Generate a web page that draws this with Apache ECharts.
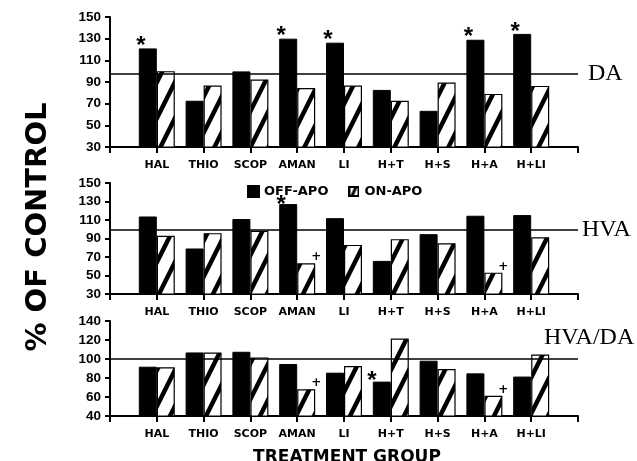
<!DOCTYPE html>
<html>
<head>
<meta charset="utf-8">
<script src="https://cdn.jsdelivr.net/npm/echarts@6/dist/echarts.min.js"></script>
<style>
html,body{margin:0;padding:0;background:#fff;}
#chart{width:637px;height:461px;}
</style>
</head>
<body>
<div id="chart"></div>
<script>
// ---- data ----
const categories = ['HAL', 'THIO', 'SCOP', 'AMAN', 'LI', 'H+T', 'H+S', 'H+A', 'H+LI'];
const daOff = [121, 72.7, 99.8, 130, 126.3, 82.7, 63.4, 129, 134.4];
const daOn = [100, 86.7, 92.3, 84.5, 86.7, 72.7, 89.5, 79, 86.4];
const hvaOff = [113.8, 79.2, 111, 127.2, 112, 65.8, 94.7, 114.6, 115.3];
const hvaOn = [92.9, 95.8, 98.3, 63.2, 83.1, 89.3, 84.9, 53.1, 91.4];
const ratioOff = [91.9, 106.9, 107.6, 94.7, 85.6, 76.2, 98.2, 84.9, 81.5];
const ratioOn = [91.2, 106.9, 101.7, 68.2, 92.6, 121.5, 89.5, 61.3, 104.8];
const daOffMarks = ['*', '', '', '*', '*', '', '', '*', '*'];
const daOnMarks = ['', '', '', '', '', '', '', '', ''];
const hvaOffMarks = ['', '', '', '*', '', '', '', '', ''];
const hvaOnMarks = ['', '', '', '+', '', '', '', '+', ''];
const ratioOffMarks = ['', '', '', '', '', '*', '', '', ''];
const ratioOnMarks = ['', '', '', '+', '', '', '', '+', ''];
const controlLevels = [98, 100, 100];
const daRange = [30, 150];
const hvaRange = [30, 150];
const ratioRange = [40, 140];
const tickStep = 20;
const panelNames = ['DA', 'HVA', 'HVA/DA'];
const seriesNames = ['OFF-APO', 'ON-APO'];
const yTitle = '% OF CONTROL';
const xTitle = 'TREATMENT GROUP';

// ---- hatch pattern ----
const pc = document.createElement('canvas');
pc.width = 18; pc.height = 36;
const g = pc.getContext('2d');
g.fillStyle = '#fff'; g.fillRect(0, 0, 18, 36);
g.strokeStyle = '#000'; g.lineWidth = 4.5;
for (let k = -1; k <= 1; k++) {
  g.beginPath();
  g.moveTo(-18 + k * 18, 72);
  g.lineTo(36 + k * 18, -36);
  g.stroke();
}
const hatch = { image: pc, repeat: 'repeat' };

// legend icon for the hatched series
const ic = document.createElement('canvas');
ic.width = 11; ic.height = 11;
const h = ic.getContext('2d');
h.fillStyle = '#fff'; h.fillRect(0, 0, 11, 11);
h.strokeStyle = '#000'; h.lineWidth = 3;
h.beginPath(); h.moveTo(3, 11); h.lineTo(8, 0); h.stroke();
h.lineWidth = 2; h.strokeRect(1, 1, 9, 9);
const hatchIcon = 'image://' + ic.toDataURL();

const axisCats = [''].concat(categories, ['']);
const pad = arr => [null].concat(arr, [null]);
const padM = arr => [''].concat(arr, ['']);

const grids = [
  { left: 110, right: 59, top: 17, height: 130 },
  { left: 110, right: 59, top: 183, height: 111 },
  { left: 110, right: 59, top: 321, height: 95 }
];
const ranges = [daRange, hvaRange, ratioRange];
const offData = [daOff, hvaOff, ratioOff];
const onData = [daOn, hvaOn, ratioOn];
const offMarks = [daOffMarks, hvaOffMarks, ratioOffMarks];
const onMarks = [daOnMarks, hvaOnMarks, ratioOnMarks];
const offMarkOffset = [[-7, 12], [-7, 15], [-10, 14]];

const xAxes = [], yAxes = [], series = [];
for (let i = 0; i < 3; i++) {
  xAxes.push({
    type: 'category', gridIndex: i, data: axisCats, boundaryGap: false,
    axisLine: { lineStyle: { color: '#000', width: 2 } },
    axisTick: { show: true, length: 6, lineStyle: { color: '#000', width: 2 } },
    axisLabel: { color: '#000', fontFamily: 'DejaVu Sans', fontWeight: 'bold', fontSize: 11, margin: 13, interval: 0 },
    splitLine: { show: false }
  });
  yAxes.push({
    type: 'value', gridIndex: i, min: ranges[i][0], max: ranges[i][1], interval: tickStep,
    axisLine: { show: true, lineStyle: { color: '#000', width: 2 } },
    axisTick: { show: true, length: 5, lineStyle: { color: '#000', width: 2 } },
    axisLabel: { color: '#000', fontFamily: 'Liberation Sans', fontWeight: 'bold', fontSize: 13.5, margin: 9 },
    splitLine: { show: false }
  });
  const om = padM(offMarks[i]);
  const nm = padM(onMarks[i]);
  series.push({
    name: seriesNames[0], type: 'bar', xAxisIndex: i, yAxisIndex: i,
    data: pad(offData[i]), barWidth: 18, barGap: '0%',
    itemStyle: { color: '#000', borderColor: '#000', borderWidth: 1 },
    label: {
      show: true, position: 'top', distance: 2, offset: offMarkOffset[i],
      formatter: p => om[p.dataIndex] || '',
      color: '#000', fontFamily: 'Liberation Sans', fontWeight: 'bold', fontSize: 24
    },
    markLine: {
      silent: true, symbol: 'none', label: { show: false },
      lineStyle: { color: '#000', width: 1.5, type: 'solid' },
      data: [{ yAxis: controlLevels[i] }]
    },
    animation: false
  });
  series.push({
    name: seriesNames[1], type: 'bar', xAxisIndex: i, yAxisIndex: i,
    data: pad(onData[i]), barWidth: 18, barGap: '0%',
    itemStyle: { color: hatch, borderColor: '#000', borderWidth: 1.2 },
    label: {
      show: true, position: 'top', distance: 2, offset: [10, 2],
      formatter: p => nm[p.dataIndex] || '',
      color: '#000', fontFamily: 'DejaVu Sans', fontWeight: 'bold', fontSize: 12
    },
    animation: false
  });
}

const chart = echarts.init(document.getElementById('chart'), null, { renderer: 'canvas' });
chart.setOption({
  backgroundColor: '#fff',
  animation: false,
  grid: grids,
  xAxis: xAxes,
  yAxis: yAxes,
  series: series,
  legend: {
    data: [{ name: seriesNames[0], icon: 'rect' }, { name: seriesNames[1], icon: hatchIcon }],
    left: 242, top: 180, itemWidth: 11, itemHeight: 11, itemGap: 20,
    selectedMode: false,
    textStyle: { color: '#000', fontFamily: 'DejaVu Sans', fontWeight: 'bold', fontSize: 13 }
  },
  graphic: [
    { type: 'text', x: 38, y: 227, rotation: Math.PI / 2,
      style: { text: yTitle, font: 'bold 29px "DejaVu Sans"', fill: '#000', textAlign: 'center', textVerticalAlign: 'middle', align: 'center', verticalAlign: 'middle' } },
    { type: 'text', x: 347, y: 458,
      style: { text: xTitle, font: 'bold 17px "DejaVu Sans"', fill: '#000', textAlign: 'center', textVerticalAlign: 'middle', align: 'center', verticalAlign: 'middle' } },
    { type: 'text', x: 588, y: 74,
      style: { text: panelNames[0], font: '24px "Liberation Serif"', fill: '#000', textAlign: 'left', textVerticalAlign: 'middle', align: 'left', verticalAlign: 'middle' } },
    { type: 'text', x: 582, y: 230,
      style: { text: panelNames[1], font: '24px "Liberation Serif"', fill: '#000', textAlign: 'left', textVerticalAlign: 'middle', align: 'left', verticalAlign: 'middle' } },
    { type: 'text', x: 544, y: 338,
      style: { text: panelNames[2], font: '24px "Liberation Serif"', fill: '#000', textAlign: 'left', textVerticalAlign: 'middle', align: 'left', verticalAlign: 'middle' } }
  ]
});
</script>
</body>
</html>
